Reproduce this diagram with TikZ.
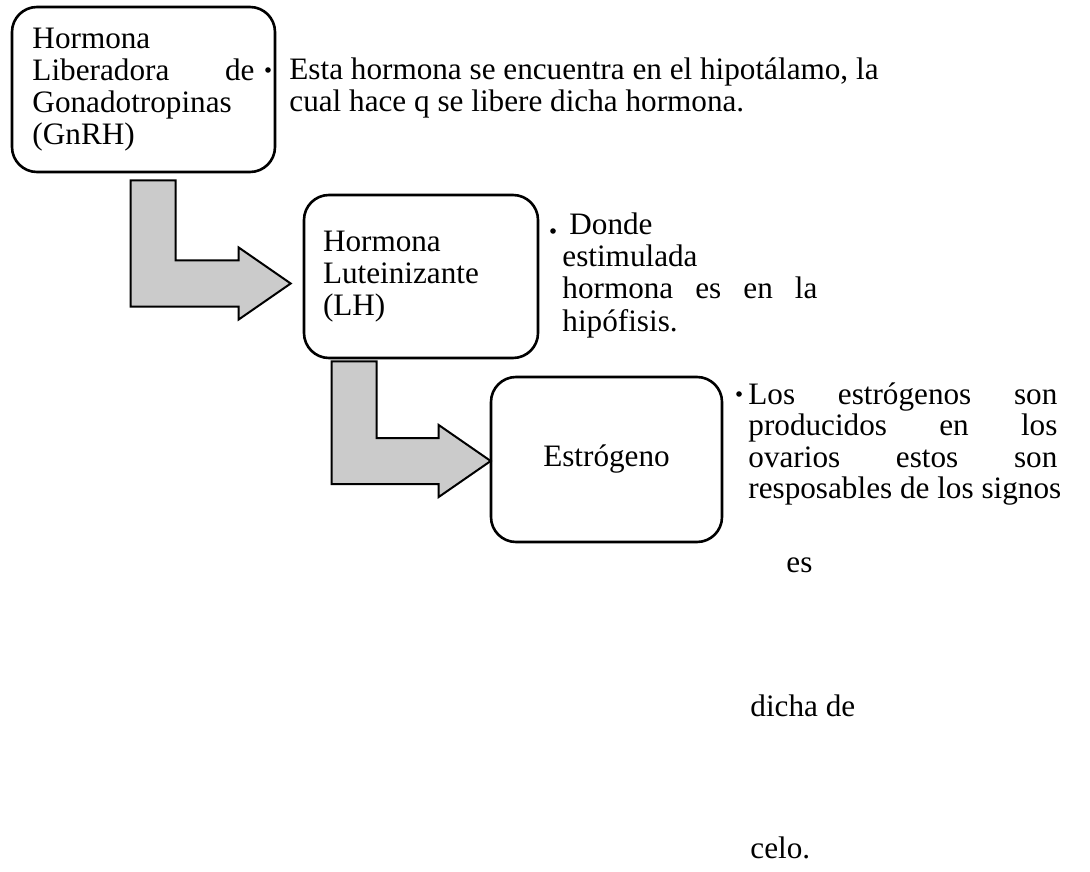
\documentclass[tikz,border=0pt]{standalone}
\usepackage{fontspec}
\setmainfont{Liberation Serif}
\usepackage{tikz}
\usetikzlibrary{calc}
\definecolor{ArrowGray}{HTML}{CBCBCB}

\tikzset{
    hbox/.style={draw, line width=1.3pt, rounded corners=12.5pt, fill=white, inner ysep=0pt},
    note/.style={anchor=base west, inner sep=0pt},
    dot/.style={circle, fill=black, inner sep=0pt, minimum size=2.8pt},
    blockarrow/.style={draw, line width=1pt, fill=ArrowGray, line join=miter}
}

% bent block arrow: #1 = top left of the shaft, #2 = tip
\newcommand{\bentarrow}[2]{%
    \draw[blockarrow] (#1) -- ++(45,0) |- ($(#2)+(-52,-23)$) -- ++(0,-13) -- (#2)
        -- ++(-52,36) -- ++(0,-13) -| (#1) -- cycle;
}

\begin{document}
\begin{tikzpicture}[x=0.5pt, y=-0.5pt, font=\fontsize{15.6pt}{15.9pt}\selectfont]
        \useasboundingbox (0,0) rectangle (1090,871);

        % 1. Hormone boxes
        \node[hbox, minimum width=131.5pt, minimum height=82.5pt, text width=111pt, inner xsep=10.25pt, align=left]
            (gnrh) at (143.5,89.5) {Hormona\\ Liberadora\hfill de\\ Gonadotropinas\\ (GnRH)};
        \node[hbox, minimum width=117pt, minimum height=81.5pt, text width=98pt, inner xsep=9.5pt, align=left]
            (lh) at (421,276.5) {Hormona\\ Luteinizante\\ (LH)};
        \node[hbox, minimum width=115.5pt, minimum height=82.5pt, align=center]
            (estro) at (606.5,459.5) {Estrógeno};

        % 2. Block arrows between the boxes
        \coordinate (s1) at ($(gnrh.south west)+(120,7)$);
        \coordinate (t1) at ($(lh.west)+(-12,7)$);
        \coordinate (s2) at ($(lh.south west)+(29,2)$);
        \coordinate (t2) at ($(estro.west)+(1,1.5)$);
        \bentarrow{s1}{t1}
        \bentarrow{s2}{t2}

        % 3. Note for GnRH
        \node[dot] (d1) at (268,70) {};
        \foreach \txt [count=\i from 0] in {{Esta hormona se encuentra en el hipotálamo, la}, {cual hace q se libere dicha hormona.}}
            \node[note] (n1-\i) at (289,80+\i*32) {\txt};

        % 4. Note for LH
        \node[dot] (d2) at (553,231) {};
        \node[note] (n2-0) at (569,235) {Donde};
        \node[note] (n2-1) at (562,267) {estimulada};
        \node[note] (n2-2) at (562,299) {\makebox[127.5pt][s]{hormona es en la}};
        \node[note] (n2-3) at (562,331) {hipófisis.};

        % 5. Note for estrogen
        \node[dot] (d3) at (739,394) {};
        \foreach \txt [count=\i from 0] in {{Los estrógenos son}, {producidos en los}, {ovarios estos son}}
            \node[note] (n3-\i) at (748,404+\i*31.5) {\makebox[154.5pt][s]{\txt}};
        \node[note] (n3-3) at (748,498) {resposables de los signos};
        \node[note] (n3-4) at (786,572) {es};
        \node[note] (n3-5) at (750,716) {dicha de};
        \node[note] (n3-6) at (750,858) {celo.};

    \end{tikzpicture}
\end{document}
